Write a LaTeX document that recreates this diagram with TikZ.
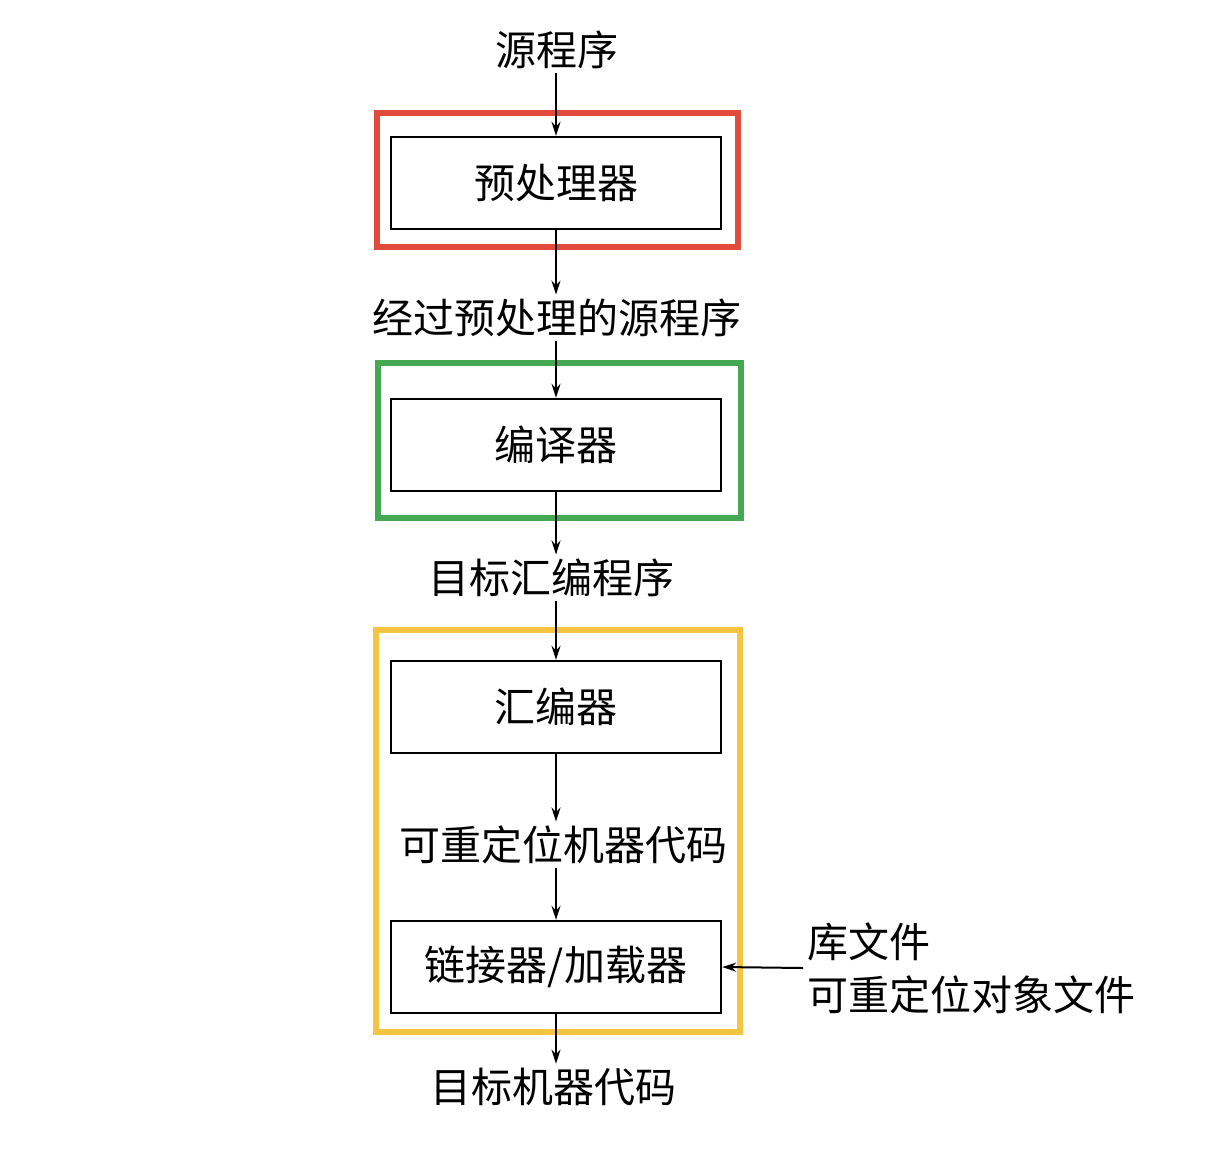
\documentclass[tikz,border=0pt]{standalone}
\usepackage{fontspec}
\setmainfont{Noto Sans CJK SC}
\usepackage{tikz}
\usetikzlibrary{arrows.meta,positioning}
\definecolor{framered}{HTML}{E24A3B}
\definecolor{framegreen}{HTML}{45A852}
\definecolor{frameyellow}{HTML}{F5C443}

\begin{document}
\begin{tikzpicture}[
  x=0.5pt, y=-0.5pt,
  font=\fontsize{20.5}{26.5}\selectfont,
  box/.style={draw=black, line width=1.2pt, fill=white, minimum width=165pt, minimum height=46pt, align=center},
  txt/.style={inner sep=2pt, align=center},
  frame/.style={line width=2.6pt, minimum width=#1, inner sep=0pt},
  line/.style={-{Stealth[length=7pt, width=4.5pt]}, line width=1pt, draw=black}
]
\useasboundingbox (0,0) rectangle (1208,1150);

\node[frame=180.5pt, draw=framered, minimum height=67pt] (fpre) at (557.5,180) {};
\node[frame=181.5pt, draw=framegreen, minimum height=77.5pt] (fcomp) at (559.5,440.5) {};
\node[frame=182pt, draw=frameyellow, minimum height=201pt] (fasm) at (558,831) {};

\node[txt] (src) at (557,50) {源程序};
\node[box] (pre) at (556,183) {预处理器};
\node[txt] (ppsrc) at (557,318) {经过预处理的源程序};
\node[box] (comp) at (556,445) {编译器};
\node[txt] (asmsrc) at (551,578) {目标汇编程序};
\node[box] (asm) at (556,707) {汇编器};
\node[txt] (reloc) at (563,845) {可重定位机器代码};
\node[box] (link) at (556,967) {链接器/加载器};
\node[txt] (mcode) at (553,1087) {目标机器代码};
\node[txt, align=left, anchor=west] (lib) at (803,968) {库文件\\可重定位对象文件};

\draw[line] (pre |- src.south) -- (pre.north);
\draw[line] (pre.south) -- (pre |- ppsrc.north);
\draw[line] (pre |- ppsrc.south) -- (comp.north);
\draw[line] (comp.south) -- (comp |- asmsrc.north);
\draw[line] (comp |- asmsrc.south) -- (asm.north);
\draw[line] (asm.south) -- (asm |- reloc.north);
\draw[line] (asm |- reloc.south) -- (link.north);
\draw[line] (lib.west) -- (link.east);
\draw[line] (link.south) -- (link |- mcode.north);
\end{tikzpicture}
\end{document}
